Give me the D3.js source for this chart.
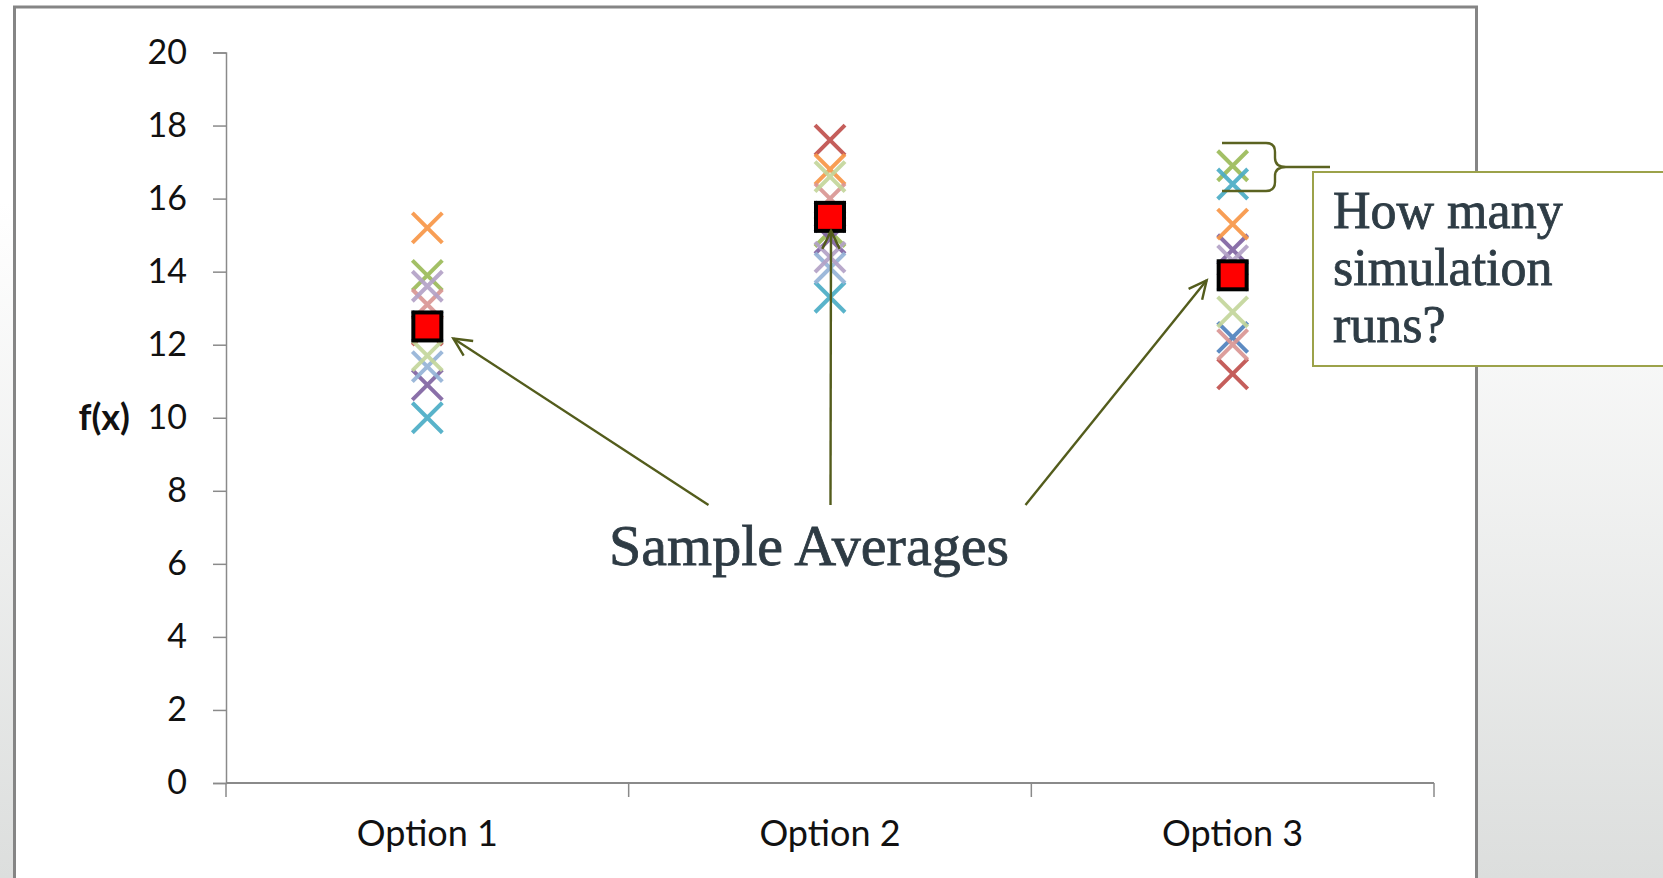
<!DOCTYPE html>
<html>
<head>
<meta charset="utf-8">
<script src="https://cdn.jsdelivr.net/npm/d3@7"></script>
<style>
  html, body { margin: 0; padding: 0; background: #fff; }
  svg { display: block; }
</style>
</head>
<body>
<svg id="chart" width="1663" height="878"></svg>
<script>
// ---------- DATA ----------
const categories = ["Option 1", "Option 2", "Option 3"];
const yTicks = [0, 2, 4, 6, 8, 10, 12, 14, 16, 18, 20];

// individual simulation runs (one value per option)
const runNames  = ["Run 1", "Run 2", "Run 3", "Run 4", "Run 5", "Run 6", "Run 7", "Run 8", "Run 9", "Run 10"];
const runColors = ["#4F81BD", "#C0504D", "#9BBB59", "#8064A2", "#4BACC6", "#F79646", "#95B3D7", "#D99694", "#C3D69B", "#B3A2C7"];
const run1  = [12.5, 15.5, 12.2];
const run2  = [12.4, 17.6, 11.2];
const run3  = [13.9, 15.1, 16.9];
const run4  = [10.9, 14.9, 14.6];
const run5  = [10.0, 13.3, 16.4];
const run6  = [15.2, 16.8, 15.3];
const run7  = [11.4, 14.1, 13.9];
const run8  = [13.1, 16.0, 12.0];
const run9  = [11.7, 16.6, 12.9];
const run10 = [13.6, 14.4, 14.3];
const runs = [run1, run2, run3, run4, run5, run6, run7, run8, run9, run10];

// sample averages
const averages = [12.5, 15.5, 13.9];

const yLabel = "f(x)";
const annotationText = "Sample Averages";
const calloutLines = ["How many", "simulation", "runs?"];

// ---------- DRAW ----------
const svg = d3.select("#chart");
const W = 1663, H = 878;

const defs = svg.append("defs");
const bg = defs.append("linearGradient").attr("id", "bg")
  .attr("x1", 0).attr("y1", 0).attr("x2", 0).attr("y2", 1);
bg.append("stop").attr("offset", "0%").attr("stop-color", "#ffffff");
bg.append("stop").attr("offset", "23%").attr("stop-color", "#ffffff");
bg.append("stop").attr("offset", "100%").attr("stop-color", "#dcdedd");

svg.append("rect").attr("width", W).attr("height", H).attr("fill", "url(#bg)");

// chart frame
svg.append("rect")
  .attr("x", 14.5).attr("y", 7).attr("width", 1462).attr("height", 900)
  .attr("fill", "#ffffff").attr("stroke", "#858585").attr("stroke-width", 3);

const x = d3.scaleBand().domain(categories).range([226, 1434]).padding(0);
const y = d3.scaleLinear().domain([0, 20]).range([783, 52.5]);
const cx = c => x(c) + x.bandwidth() / 2;

const axisColor = "#8a8a8a";
const tickFont = "Lato, 'Open Sans', sans-serif";

// y axis
const gy = svg.append("g").attr("transform", "translate(226,0)")
  .call(d3.axisLeft(y).tickValues(yTicks).tickSize(13).tickPadding(26).tickFormat(d3.format("d")));
gy.select(".domain").attr("stroke", axisColor).attr("stroke-width", 1.5);
gy.selectAll(".tick line").attr("stroke", axisColor).attr("stroke-width", 1.5);
gy.selectAll(".tick text").attr("font-family", tickFont).attr("font-size", 34).attr("fill", "#111");

// x axis
const gx = svg.append("g").attr("transform", "translate(0,783)")
  .call(d3.axisBottom(x).tickSize(0).tickPadding(0).tickFormat(""));
gx.select(".domain").attr("stroke", axisColor).attr("stroke-width", 2).attr("d", "M226,0H1434");
gx.selectAll(".tick").remove();
const bounds = categories.map(c => x(c)).concat([x(categories[categories.length - 1]) + x.bandwidth()]);
gx.selectAll("line.bt").data(bounds).join("line").attr("class", "bt")
  .attr("x1", d => d).attr("x2", d => d).attr("y1", 0).attr("y2", 14)
  .attr("stroke", axisColor).attr("stroke-width", 1.5);
gx.selectAll("text.cat").data(categories).join("text").attr("class", "cat")
  .attr("x", d => cx(d)).attr("y", 63).attr("text-anchor", "middle")
  .attr("font-family", tickFont).attr("font-size", 36).attr("fill", "#111")
  .text(d => d);

// y label
svg.append("text").attr("x", 130).attr("y", y(10)).attr("dy", "0.35em")
  .attr("text-anchor", "end").attr("font-family", tickFont).attr("font-weight", "bold")
  .attr("font-size", 36).attr("fill", "#111").text(yLabel);

// run markers (X)
const r = 15;
runs.forEach((vals, i) => {
  svg.append("g").attr("class", "run")
    .selectAll("path").data(vals).join("path")
    .attr("d", (v, j) => {
      const px = cx(categories[j]), py = y(v);
      return `M${px - r},${py - r}L${px + r},${py + r}M${px - r},${py + r}L${px + r},${py - r}`;
    })
    .attr("fill", "none").attr("stroke", runColors[i]).attr("stroke-width", 4)
    .attr("stroke-opacity", 0.92);
});

// averages (red squares)
const s = 28;
svg.append("g").selectAll("rect").data(averages).join("rect")
  .attr("x", (v, j) => cx(categories[j]) - s / 2)
  .attr("y", v => y(v) - s / 2)
  .attr("width", s).attr("height", s)
  .attr("fill", "#ff0000").attr("stroke", "#000").attr("stroke-width", 4);

// annotation arrows
const arrowColor = "#535c1c";
const arrowStarts = [[708.5, 505], [830.5, 505], [1025.5, 505]];
const arrowOffsets = [[26, 12], [1, 14], [-26, 5]];
const ag = svg.append("g").attr("stroke", arrowColor).attr("stroke-width", 2.4).attr("fill", "none");
averages.forEach((v, j) => {
  const [sx, sy] = arrowStarts[j];
  const ex = cx(categories[j]) + arrowOffsets[j][0];
  const ey = y(v) + arrowOffsets[j][1];
  ag.append("line").attr("x1", sx).attr("y1", sy).attr("x2", ex).attr("y2", ey);
  const ang = Math.atan2(sy - ey, sx - ex);
  const L = 20, a = 0.45;
  ag.append("path").attr("d",
    `M${ex + L * Math.cos(ang + a)},${ey + L * Math.sin(ang + a)}L${ex},${ey}L${ex + L * Math.cos(ang - a)},${ey + L * Math.sin(ang - a)}`);
});

const serif = "'Liberation Serif', 'DejaVu Serif', serif";
svg.append("text").attr("x", 809).attr("y", 565).attr("text-anchor", "middle")
  .attr("font-family", serif).attr("font-size", 58)
  .attr("fill", "#2e3b44").attr("stroke", "#2e3b44").attr("stroke-width", 0.8)
  .text(annotationText);

// brace
svg.append("path")
  .attr("d", "M1222,143 L1266,143 Q1275,143 1275,152 L1275,158 Q1275,167 1286,167 L1330,167 M1286,167 Q1275,167 1275,176 L1275,182 Q1275,191 1266,191 L1222,191")
  .attr("fill", "none").attr("stroke", "#5b6321").attr("stroke-width", 2.4);

// callout box
svg.append("rect").attr("x", 1313).attr("y", 172).attr("width", 400).attr("height", 194)
  .attr("fill", "#ffffff").attr("stroke", "#9ca24a").attr("stroke-width", 2);
svg.append("g").selectAll("text").data(calloutLines).join("text")
  .attr("x", 1333).attr("y", (d, i) => 228 + i * 57)
  .attr("font-family", serif).attr("font-size", 52)
  .attr("fill", "#2e3c45").attr("stroke", "#2e3c45").attr("stroke-width", 0.8)
  .text(d => d);
</script>
</body>
</html>
